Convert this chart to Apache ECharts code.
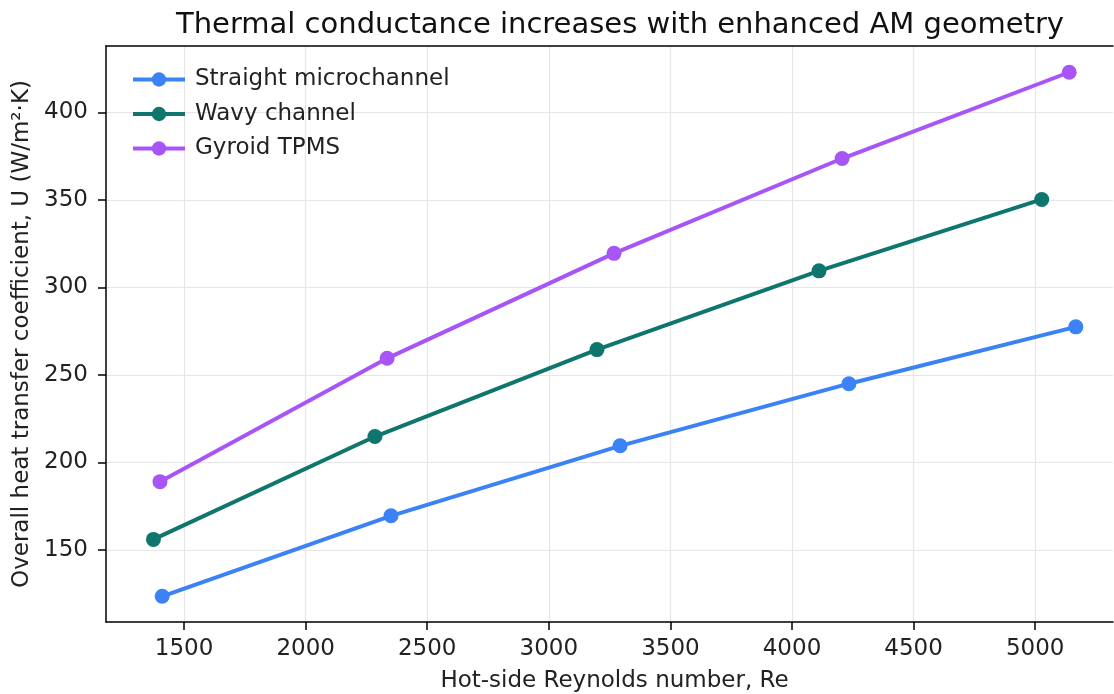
<!DOCTYPE html>
<html>
<head>
<meta charset="utf-8">
<script src="https://cdn.jsdelivr.net/npm/echarts@6/dist/echarts.min.js"></script>
<style>
  html, body { margin: 0; padding: 0; background: #fff; }
  #chart { width: 1114px; height: 694px; }
</style>
</head>
<body>
<div id="chart"></div>
<script>
// 数据
const straightRe = [1410, 2351, 3293, 4234, 5167]
const straightU = [123.5, 169.5, 209.5, 245, 277.5]
const wavyRe = [1374, 2285, 3198, 4111, 5027]
const wavyU = [156, 214.8, 264.5, 309.5, 350.3]
const gyroidRe = [1401, 2335, 3268, 4206, 5140]
const gyroidU = [189, 259.5, 319.5, 373.7, 423]

const xTicks = [1500, 2000, 2500, 3000, 3500, 4000, 4500, 5000]
const yTicks = [150, 200, 250, 300, 350, 400]

const FONT = 'DejaVu Sans'
const colors = ['#3b82f6', '#0f766e', '#a855f7']

function pairs(xs, ys) {
  return xs.map((x, i) => [x, ys[i]])
}

function makeSeries(name, xs, ys, color) {
  return {
    name: name,
    type: 'line',
    data: pairs(xs, ys),
    symbol: 'circle',
    symbolSize: 15,
    lineStyle: { width: 4, color: color },
    itemStyle: { color: color },
    emphasis: { disabled: true },
    z: 3
  }
}

const chart = echarts.init(document.getElementById('chart'))

chart.setOption({
  animation: false,
  textStyle: { fontFamily: FONT },
  title: {
    text: 'Thermal conductance increases with enhanced AM geometry',
    left: 615,
    top: 6,
    textAlign: 'center',
    textStyle: { fontFamily: FONT, fontSize: 29, fontWeight: 'normal', color: '#111' }
  },
  legend: {
    left: 126,
    top: 63,
    orient: 'vertical',
    itemWidth: 52,
    itemHeight: 18,
    itemGap: 11.5,
    lineStyle: { width: 4 },
    textStyle: { fontFamily: FONT, fontSize: 23, color: '#222', padding: [0, 0, 0, 5] },
    data: ['Straight microchannel', 'Wavy channel', 'Gyroid TPMS']
  },
  grid: {
    left: 106,
    right: 1,
    top: 46,
    bottom: 72,
    containLabel: false,
    outerBoundsMode: 'none'
  },
  xAxis: [
    {
      type: 'value',
      min: 1179,
      max: 5320,
      name: 'Hot-side Reynolds number, Re',
      nameLocation: 'middle',
      nameGap: 48,
      nameTextStyle: { fontFamily: FONT, fontSize: 23, color: '#222', padding: [0, 0, 0, 10] },
      axisLine: { show: true, lineStyle: { color: '#000', width: 1.5 } },
      axisTick: { show: true, length: 8, customValues: xTicks, lineStyle: { color: '#000', width: 1.5 } },
      axisLabel: {
        customValues: xTicks, margin: 16, fontFamily: FONT, fontSize: 23, color: '#222',
        formatter: v => String(v)
      },
      splitLine: { show: true, lineStyle: { color: '#e6e6e6', width: 1.2 } }
    },
    {
      type: 'value',
      position: 'top',
      min: 1179,
      max: 5320,
      axisLine: { show: true, lineStyle: { color: '#000', width: 1.5 } },
      axisTick: { show: false },
      axisLabel: { show: false },
      splitLine: { show: false }
    }
  ],
  yAxis: {
    type: 'value',
    min: 108.8,
    max: 438,
    name: 'Overall heat transfer coefficient, U (W/m²·K)',
    nameLocation: 'middle',
    nameGap: 71,
    nameTextStyle: { fontFamily: FONT, fontSize: 23, color: '#222' },
    axisLine: { show: true, lineStyle: { color: '#000', width: 1.5 } },
    axisTick: { show: true, length: 8, customValues: yTicks, lineStyle: { color: '#000', width: 1.5 } },
    axisLabel: {
      customValues: yTicks, margin: 18, fontFamily: FONT, fontSize: 23, color: '#222',
      formatter: v => String(v)
    },
    splitLine: { show: true, lineStyle: { color: '#e6e6e6', width: 1.2 } }
  },
  series: [
    makeSeries('Straight microchannel', straightRe, straightU, colors[0]),
    makeSeries('Wavy channel', wavyRe, wavyU, colors[1]),
    makeSeries('Gyroid TPMS', gyroidRe, gyroidU, colors[2])
  ]
})
</script>
</body>
</html>
